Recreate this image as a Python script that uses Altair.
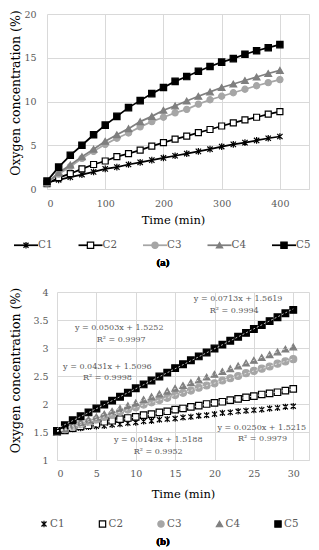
import altair as alt
import pandas as pd

# ---------------- data ----------------
series = ["C1", "C2", "C3", "C4", "C5"]

# panel (a): time in min
time_a = [0, 20, 40, 60, 80, 100, 120, 140, 160, 180, 200,
          220, 240, 260, 280, 300, 320, 340, 360, 380, 400]
a_c1 = [0.75, 1.05, 1.35, 1.65, 1.95, 2.3, 2.5, 2.8, 3.05, 3.3, 3.55,
        3.8, 4.05, 4.3, 4.55, 4.85, 5.1, 5.3, 5.55, 5.8, 6.0]
a_c2 = [0.6, 1.3, 1.75, 2.3, 2.8, 3.2, 3.7, 4.05, 4.45, 4.9, 5.3,
        5.7, 6.05, 6.45, 6.8, 7.2, 7.55, 7.9, 8.2, 8.55, 8.85]
a_c3 = [0.7, 1.7, 2.55, 3.5, 4.3, 5.1, 5.8, 6.4, 7.1, 7.7, 8.2,
        8.7, 9.1, 9.7, 10.2, 10.6, 11.0, 11.4, 11.8, 12.15, 12.5]
a_c4 = [0.7, 1.85, 2.75, 3.7, 4.55, 5.45, 6.2, 6.9, 7.7, 8.3, 9.0,
        9.5, 10.05, 10.6, 11.1, 11.6, 12.0, 12.4, 12.8, 13.2, 13.55]
a_c5 = [0.9, 2.5, 3.85, 5.0, 6.2, 7.3, 8.3, 9.3, 10.1, 10.9, 11.6,
        12.3, 12.85, 13.45, 14.0, 14.5, 14.9, 15.4, 15.8, 16.15, 16.5]

# panel (b): first 30 min
time_b = [0, 1, 2, 3, 4, 5, 6, 7, 8, 9, 10, 11, 12, 13, 14, 15,
          16, 17, 18, 19, 20, 21, 22, 23, 24, 25, 26, 27, 28, 29, 30]
b_c1 = [1.50, 1.53, 1.55, 1.57, 1.59, 1.60, 1.61, 1.63, 1.64, 1.66, 1.67,
        1.69, 1.70, 1.72, 1.73, 1.74, 1.76, 1.77, 1.79, 1.80, 1.82,
        1.84, 1.85, 1.87, 1.88, 1.89, 1.90, 1.92, 1.93, 1.95, 1.96]
b_c2 = [1.50, 1.53, 1.57, 1.60, 1.62, 1.65, 1.68, 1.70, 1.73, 1.75, 1.77,
        1.80, 1.82, 1.85, 1.87, 1.90, 1.92, 1.95, 1.97, 2.00, 2.02,
        2.04, 2.07, 2.09, 2.12, 2.14, 2.17, 2.19, 2.21, 2.24, 2.27]
b_c3 = [1.50, 1.55, 1.60, 1.64, 1.68, 1.72, 1.77, 1.81, 1.86, 1.90, 1.94,
        1.99, 2.03, 2.07, 2.11, 2.16, 2.20, 2.24, 2.29, 2.33, 2.37,
        2.42, 2.46, 2.50, 2.55, 2.59, 2.63, 2.67, 2.72, 2.76, 2.80]
b_c4 = [1.50, 1.56, 1.62, 1.67, 1.72, 1.77, 1.82, 1.87, 1.92, 1.97, 2.02,
        2.08, 2.13, 2.18, 2.23, 2.28, 2.33, 2.38, 2.43, 2.48, 2.53,
        2.58, 2.63, 2.68, 2.73, 2.78, 2.83, 2.88, 2.93, 2.98, 3.02]
b_c5 = [1.52, 1.62, 1.71, 1.78, 1.85, 1.92, 1.99, 2.06, 2.13, 2.20, 2.28,
        2.35, 2.42, 2.49, 2.56, 2.64, 2.71, 2.78, 2.85, 2.92, 2.99,
        3.06, 3.13, 3.20, 3.27, 3.34, 3.41, 3.48, 3.55, 3.62, 3.68]

eq_text = ["y = 0.0149x + 1.5188", "y = 0.0250x + 1.5215", "y = 0.0431x + 1.5096",
           "y = 0.0503x + 1.5252", "y = 0.0713x + 1.5619"]
r2_text = ["R² = 0.9952", "R² = 0.9979", "R² = 0.9998", "R² = 0.9997", "R² = 0.9994"]

# ---------------- layout / style (not data) ----------------
eq_pos_x = [12.85, 26.0, 6.4, 7.9, 23.0]
eq_pos_y = [1.36, 1.57, 2.66, 3.36, 3.875]
r2_pos_x = [12.85, 26.1, 6.4, 8.15, 22.5]
r2_pos_y = [1.145, 1.375, 2.46, 3.14, 3.66]

FONT = "DejaVu Serif"
GRID = "#d9d9d9"
LABEL = "#595959"
W = 262          # group width of both panels
SHIFT = 10       # panel (b) plot starts 10px right of panel (a)
line_col = ["#000000", "#000000", "#a6a6a6", "#7f7f7f", "#000000"]
fill_col = ["transparent", "#ffffff", "#a6a6a6", "#7f7f7f", "#000000"]
STAR = "M-0.8,-0.8L0.8,0.8M-0.8,0.8L0.8,-0.8M0,-1L0,1"
shapes = [STAR, "square", "circle", "triangle-up", "square"]
size_a = [45, 36, 38, 45, 40]
size_b = [40, 42, 49, 45, 45]

vals_a = [a_c1, a_c2, a_c3, a_c4, a_c5]
vals_b = [b_c1, b_c2, b_c3, b_c4, b_c5]

dfa = pd.DataFrame({
    "t": [t for _ in series for t in time_a],
    "v": [v for vs in vals_a for v in vs],
    "series": [s for s in series for _ in time_a],
})
dfb = pd.DataFrame({
    "t": [t for _ in series for t in time_b],
    "v": [v for vs in vals_b for v in vs],
    "series": [s for s in series for _ in time_b],
})
ann = pd.DataFrame({
    "t": eq_pos_x + r2_pos_x,
    "v": eq_pos_y + r2_pos_y,
    "text": eq_text + r2_text,
})

# ---------------- panel (a) ----------------
xA = alt.X("t:Q", scale=alt.Scale(domain=[0, 450], nice=False),
           axis=alt.Axis(values=[0, 100, 200, 300, 400, 450],
                         labelExpr="datum.value == 450 ? '' : datum.label",
                         title="Time (min)", labelPadding=9.5, titlePadding=6.5, titleX=126))
yA = alt.Y("v:Q", scale=alt.Scale(domain=[0, 20], nice=False),
           axis=alt.Axis(values=[0, 5, 10, 15, 20], title="Oxygen concentration (%)",
                         labelPadding=11, titlePadding=1.2, titleY=78.5))

layers_a = []
for i, s in enumerate(series):
    base = alt.Chart(dfa).transform_filter(alt.datum.series == s)
    layers_a.append(base.mark_line(color=line_col[i], strokeWidth=1.75).encode(x=xA, y=yA))
    layers_a.append(base.mark_point(shape=shapes[i], size=size_a[i], filled=True,
                                    fill=fill_col[i], stroke=line_col[i],
                                    strokeWidth=1.2, opacity=1).encode(x=xA, y=yA))
panel_a = alt.layer(*layers_a).properties(width=W, height=175)

# ---------------- panel (b) ----------------
xB = alt.X("t:Q", scale=alt.Scale(domain=[0, 32], range=[SHIFT, W], nice=False),
           axis=alt.Axis(values=[0, 5, 10, 15, 20, 25, 30, 32],
                         labelExpr="datum.value == 32 ? '' : datum.label",
                         title="Time (min)", labelPadding=8.25, titlePadding=10.5))
yB = alt.Y("v:Q", scale=alt.Scale(domain=[1, 4], nice=False, zero=False),
           axis=alt.Axis(values=[1, 1.5, 2, 2.5, 3, 3.5, 4], format="~g",
                         title="Oxygen concentration (%)", offset=-SHIFT,
                         labelPadding=9, titlePadding=10, titleY=78))

layers_b = []
for i, s in enumerate(series):
    base = alt.Chart(dfb).transform_filter(alt.datum.series == s)
    layers_b.append(base.mark_point(shape=shapes[i], size=size_b[i], filled=True,
                                    fill=fill_col[i], stroke=line_col[i],
                                    strokeWidth=1.2, opacity=1).encode(x=xB, y=yB))
trend = alt.Chart(dfb).transform_regression("t", "v", groupby=["series"]).mark_line(
    color="#eeeeee", strokeWidth=0.8, strokeDash=[2, 2]).encode(x=xB, y=yB, detail="series:N")
labels_b = alt.Chart(ann).mark_text(font=FONT, fontSize=8, color=LABEL, baseline="middle").encode(
    x=xB, y=yB, text="text:N")
panel_b = alt.layer(*layers_b, trend, labels_b).properties(width=W, height=168)

# ---------------- legends ----------------
leg_df = pd.DataFrame({"series": series})
shape_sc = alt.Scale(domain=series, range=shapes)
fill_sc = alt.Scale(domain=series, range=fill_col)
stroke_sc = alt.Scale(domain=series, range=line_col)


def legend(xrange, with_line, dx, y, cap, cap_y, h):
    lx = alt.X("series:N", scale=alt.Scale(type="point", domain=series, range=xrange, padding=0), axis=None)
    base = alt.Chart(leg_df)
    layers = []
    if with_line:
        layers.append(base.mark_point(shape="M-1,0L1,0", size=576, filled=False,
                                      strokeWidth=1.75, opacity=1).encode(
            x=lx, y=alt.value(y), stroke=alt.Stroke("series:N", scale=stroke_sc, legend=None)))
    layers.append(base.mark_point(filled=True, opacity=1, strokeWidth=1.2, size=40).encode(
        x=lx, y=alt.value(y),
        shape=alt.Shape("series:N", scale=shape_sc, legend=None),
        fill=alt.Fill("series:N", scale=fill_sc, legend=None),
        stroke=alt.Stroke("series:N", scale=stroke_sc, legend=None)))
    layers.append(base.mark_text(align="left", baseline="middle", dx=dx, font=FONT,
                                 fontSize=10.3, color=LABEL).encode(
        x=lx, y=alt.value(y), text="series:N"))
    layers.append(base.mark_text(text=cap, font=FONT, fontSize=8.5, fontWeight="bold",
                                 color="#000000", baseline="middle").encode(
        x=alt.value(116), y=alt.value(cap_y)))
    return alt.layer(*layers).properties(width=W, height=h)


leg_a = legend([-21, 237], True, 12, 17.25, "(a)", 35.25, 57.5)
leg_b = legend([-3, 231], False, 6, 22, "(b)", 40, 44)

chart = alt.vconcat(panel_a, leg_a, panel_b, leg_b, spacing=0).properties(
    padding={"left": 1, "top": 0, "right": 0, "bottom": 0}
).configure_view(stroke="transparent").configure_axis(
    labelFont=FONT, titleFont=FONT, labelColor=LABEL, titleColor="#000000",
    labelFontSize=9.5, titleFontSize=11.5, titleFontWeight="normal",
    gridColor=GRID, gridWidth=1, domainColor=GRID, ticks=False, tickSize=0
).configure_axisY(domain=False, titleFontSize=12.5)

chart.save("out.html", embed_options={"renderer": "svg", "actions": False})
